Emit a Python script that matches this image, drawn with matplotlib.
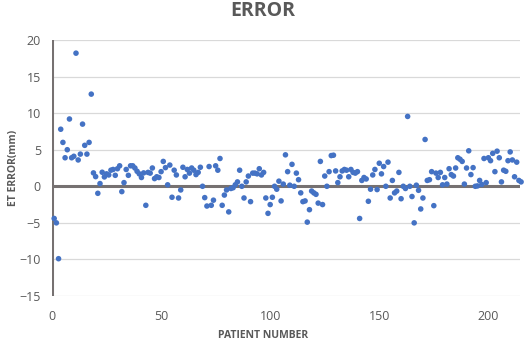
import numpy as np
import matplotlib
matplotlib.use("Agg")
import matplotlib.pyplot as plt

title = "ERROR"
xlabel = "PATIENT NUMBER"
ylabel = "ET ERROR(mm)"

err_01_18 = [-4.4, -5.0, -9.9, 7.8, 6.0, 3.9, 5.0, 9.2, 3.9, 4.1, 18.2, 3.6, 4.4, 8.5, 5.6, 4.4, 6.0, 12.6]
err_19_43 = [1.83, 1.32, -0.96, 0.37, 1.92, 1.28, 1.7, 1.55, 2.2, 2.3, 1.5, 2.4, 2.8, -0.73, 0.5,
             2.3, 1.5, 2.8, 2.8, 2.5, 2.05, 1.7, 1.2, 1.83, -2.6]
err_44_86 = [1.9, 1.8, 2.5, 1.05, 1.3, 1.2, 2.0, 3.4, 2.55, 0.2, 2.9, -1.5, 2.2, 1.55, -1.6, -0.5,
             2.6, 1.3, 2.3, 1.8, 2.5, 2.2, 1.6, 1.9, 2.6, 0.0, -1.55, -2.7, 2.7, -2.6, -1.9, 2.8,
             2.2, 3.8, -2.6, -1.2, -0.5, -3.5, -0.3, -0.2, 0.2, 0.6, 2.2]
err_87_128 = [0.0, -1.6, 0.6, 1.4, -2.1, 1.8, 1.8, 1.7, 2.4, 1.55, 1.9, -1.6, -3.7, -2.5, -1.5, 0.0,
              -0.4, 0.7, -2.0, 0.3, 4.3, 2.0, 0.15, 3.0, 0.0, 1.8, 0.9, -0.9, -2.1, -2.0, -4.9,
              -3.2, -0.65, -0.9, -1.1, -2.3, 3.4, -2.5, 1.4, 0.0, 2.0, 4.2]
err_129_172 = [4.25, 2.1, 0.5, 1.3, 2.1, 2.3, 2.2, 1.3, 2.3, 1.9, 1.8, 2.0, -4.4, 0.8, 1.2, 1.0,
               -2.05, -0.4, 1.55, 2.3, -0.45, 3.15, 1.7, 2.7, 0.0, 3.3, -1.6, 0.8, -0.9, -0.65,
               1.9, -1.7, 0.0, -0.3, 9.55, 0.0, -1.4, -5.0, 0.15, -0.55, -3.1, -1.6, 6.4, 0.8]
err_173_215 = [0.9, 2.0, -2.65, 1.8, 1.2, 1.9, 0.2, 1.2, 0.3, 2.4, 1.6, 1.4, 2.5, 3.9, 3.7, 3.4,
               0.3, 2.5, 4.85, 1.6, 2.55, 0.0, 0.05, 0.8, 0.25, 3.8, 0.5, 3.9, 3.5, 4.5, 2.0, 4.8,
               3.9, 0.6, 2.2, 2.05, 3.5, 4.7, 3.6, 1.3, 3.3, 0.8, 0.6]

errors = np.array(err_01_18 + err_19_43 + err_44_86 + err_87_128 + err_129_172 + err_173_215)
patients = np.arange(1, len(errors) + 1)

xticks = [0, 50, 100, 150, 200]
yticks = [-15, -10, -5, 0, 5, 10, 15, 20]

plt.rcParams['font.family'] = ['Open Sans', 'DejaVu Sans']
gray_txt = "#595959"

fig = plt.figure(figsize=(5.26, 3.43), dpi=100)
ax = fig.add_axes([52/526, 1-296/343, (520-52)/526, (296-40)/343])

for yv in yticks:
    if yv != 0:
        ax.axhline(yv, color="#d9d9d9", lw=0.9, zorder=0)
ax.axhline(0, color="#767171", lw=2.2, zorder=1)
ax.axvline(0, color="#767171", lw=2.2, zorder=1)

ax.scatter(patients, errors, s=16, color="#4472C4", edgecolors="none", zorder=3, clip_on=False)

ax.set_xlim(0, 214.5)
ax.set_ylim(-15, 20)
ax.set_xticks(xticks)
ax.set_yticks(yticks)
for s in ax.spines.values():
    s.set_visible(False)
ax.tick_params(length=0, labelsize=9, labelcolor=gray_txt)
ax.tick_params(axis='x', pad=10)
ax.tick_params(axis='y', pad=8)

fig.text(0.5, 1-11/343, title, ha="center", va="center", fontsize=14, fontweight="bold", color=gray_txt)
fig.text(0.5, 1-336/343, xlabel, ha="center", va="center", fontsize=7.5, fontweight="bold", color=gray_txt)
fig.text(14/526, 1-168/343, ylabel, ha="center", va="center", rotation=90, fontsize=7.5,
         fontweight="bold", color=gray_txt)

fig.savefig("out.png", dpi=100)
